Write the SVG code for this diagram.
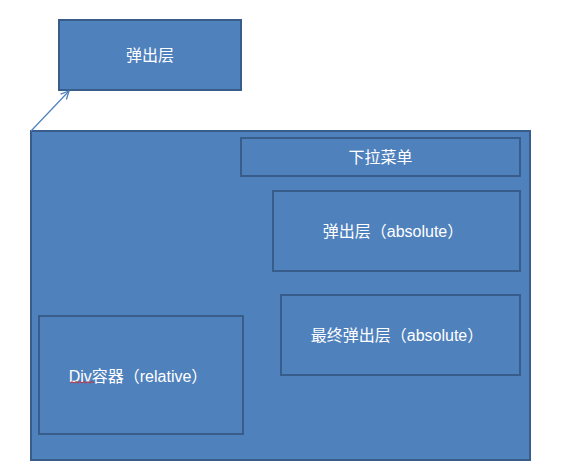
<svg xmlns="http://www.w3.org/2000/svg" width="586" height="474" viewBox="0 0 586 474">
<style>
.box{fill:#4F81BD;stroke:#385D8A;stroke-width:2}
.lbl{fill:#ffffff;font-family:"Liberation Sans","Noto Sans CJK SC",sans-serif;font-size:16px;text-anchor:middle;dominant-baseline:central}
.conn{stroke:#4F81BD;stroke-width:1.2;fill:none}
</style>
<defs>
<marker id="arr" viewBox="0 0 10 10" refX="9" refY="5" markerWidth="10" markerHeight="10" markerUnits="userSpaceOnUse" orient="auto">
<path d="M1,1 L9,5 L1,9" fill="none" stroke="#4F81BD" stroke-width="1.3"/>
</marker>
</defs>
<rect width="586" height="474" fill="#ffffff"/>
<g id="node-popup-top">
<rect class="box" x="59" y="20" width="182" height="70"/>
<text class="lbl" x="150" y="55">弹出层</text>
</g>
<g id="node-main">
<rect class="box" x="31" y="131" width="499" height="329"/>
</g>
<g id="node-dropdown">
<rect class="box" x="241" y="138" width="279" height="38"/>
<text class="lbl" x="380.5" y="157">下拉菜单</text>
</g>
<g id="node-popup-abs">
<rect class="box" x="273" y="191" width="247" height="80"/>
<text class="lbl" x="393" y="231">弹出层（absolute）</text>
</g>
<g id="node-final-popup">
<rect class="box" x="281" y="295" width="239" height="80"/>
<text class="lbl" x="397" y="335">最终弹出层（absolute）</text>
</g>
<g id="node-div">
<rect class="box" x="39" y="316" width="204" height="118"/>
<text class="lbl" x="138" y="376">Div容器（relative）</text>
<path d="M70,383 l2,-1.5 l2,1.5 l2,-1.5 l2,1.5 l2,-1.5 l2,1.5 l2,-1.5 l2,1.5 l2,-1.5 l2,1.5 l2,-1.5 l2,1.5" fill="none" stroke="#e02020" stroke-width="0.9"/>
</g>
<g id="connectors">
<line class="conn" x1="31" y1="131" x2="69" y2="91" marker-end="url(#arr)"/>
</g>
</svg>
